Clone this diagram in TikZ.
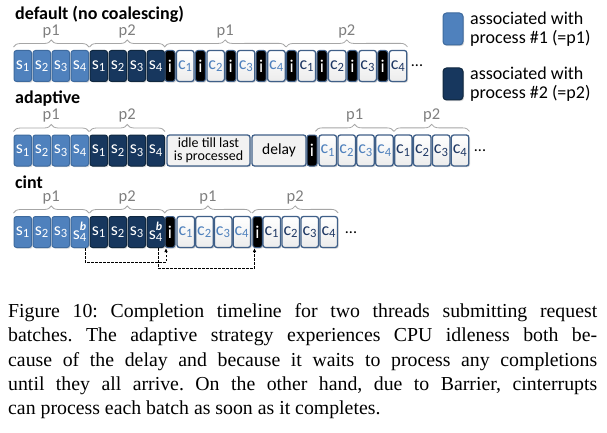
\documentclass[tikz,border=0pt]{standalone}
\usepackage{fontspec}
\setmainfont{Liberation Serif}
\newfontfamily\calfont{Carlito}
\usetikzlibrary{shadows,decorations.pathreplacing,arrows.meta}
\definecolor{p1fill}{HTML}{4F81BD}
\definecolor{p1edge}{HTML}{3E6A9E}
\definecolor{p2fill}{HTML}{17375E}
\definecolor{p2edge}{HTML}{102840}
\definecolor{cedge}{HTML}{3F5F88}
\definecolor{p2text}{HTML}{1F3864}
\definecolor{bracegray}{HTML}{A6A6A6}
\definecolor{labgray}{HTML}{7F7F7F}
\definecolor{idlefill}{HTML}{F2F2F2}
\newcommand\ssub[1]{s\textsubscript{#1}}
\newcommand\csub[1]{c\textsubscript{#1}}
\newcommand\sbsub{s\makebox[0pt][l]{\raisebox{8.5pt}{\fontsize{12}{12}\selectfont\bfseries\itshape b}}\textsubscript{4}}
\tikzset{
  cell/.style={rounded corners=2.5pt, line width=1pt, minimum height=31pt, inner sep=0pt,
    drop shadow={shadow xshift=1.2pt, shadow yshift=-1.2pt, opacity=0.3},
    font=\calfont\fontsize{18}{20}\selectfont},
  sa/.style={cell, fill=p1fill, draw=p1edge, text=white, minimum width=17.5pt},
  sb/.style={cell, fill=p2fill, draw=p2edge, text=white, minimum width=17.5pt},
  cc/.style={cell, top color=white, bottom color=gray!15, draw=cedge, line width=1.3pt, minimum width=17.5pt},
  ib/.style={cell, fill=black, draw=cedge, text=white, minimum width=10pt},
  wide/.style={cell, fill=idlefill, draw=cedge, line width=1.3pt, text=black},
  brc/.style={draw=bracegray, line width=0.8pt, decorate, decoration={brace, amplitude=7pt}},
  plab/.style={font=\calfont\fontsize{16.5}{16.5}\selectfont, text=labgray, inner sep=0pt},
  ttl/.style={anchor=base west, inner sep=0pt, font=\calfont\bfseries\fontsize{18}{20}\selectfont},
  dots/.style={anchor=base, inner sep=0pt, font=\calfont\fontsize{16}{16}\selectfont},
  legbox/.style={rounded corners=3.5pt, line width=1pt, minimum width=20pt, minimum height=32pt, inner sep=0pt,
    drop shadow={shadow xshift=1.2pt, shadow yshift=-1.2pt, opacity=0.3}},
  legtxt/.style={anchor=west, align=left, inner sep=0pt, font=\calfont\fontsize{18}{19}\selectfont},
  dsh/.style={dash pattern=on 2.5pt off 1.5pt, line width=0.8pt, -{Latex[length=4pt,width=3.5pt]}}
}
\begin{document}
\begin{tikzpicture}[x=1pt,y=-1pt]
\fill[white] (0,0) rectangle (607,433);
\useasboundingbox (0,0) rectangle (607,433);

% titles
\node[ttl] (t1) at (15,20) {default (no coalescing)};
\node[ttl] (t2) at (15,104) {adaptive};
\node[ttl] (t3) at (15,188) {cint};

% ---------- row 1 ----------
\foreach \k in {0,...,3} {
  \pgfmathtruncatemacro\n{\k+1}
  \node[sa] (da\n) at ({14+\k*19+8.75},66) {\ssub{\n}};
  \node[sb] (db\n) at ({90+\k*19+8.75},66) {\ssub{\n}};
}
\foreach \k in {0,...,7} {
  \pgfmathtruncatemacro\n{mod(\k,4)+1}
  \ifnum\k<4 \def\tc{p1fill}\else\def\tc{p2text}\fi
  \node[ib] (di\k) at ({165+\k*30.4+5},66) {i};
  \node[cc, text=\tc] (dc\k) at ({165+\k*30.4+11.5+8.75},66) {\csub{\n}};
}
\node[dots] (d1) at (417,67) {...};
\draw[brc] ([yshift=3pt]da1.north west) -- ([yshift=3pt]da4.north east) node[plab, midway, above=8.5pt] {p1};
\draw[brc] ([yshift=3pt]db1.north west) -- ([yshift=3pt]db4.north east) node[plab, midway, above=8.5pt] {p2};
\draw[brc] ([yshift=3pt]di0.north west) -- ([yshift=3pt]dc3.north east) node[plab, midway, above=8.5pt] {p1};
\draw[brc] ([yshift=3pt]di4.north west) -- ([yshift=3pt]dc7.north east) node[plab, midway, above=8.5pt] {p2};

% ---------- row 2 ----------
\foreach \k in {0,...,3} {
  \pgfmathtruncatemacro\n{\k+1}
  \node[sa] (aa\n) at ({14+\k*19+8.75},150.5) {\ssub{\n}};
  \node[sb] (ab\n) at ({90+\k*19+8.75},150.5) {\ssub{\n}};
}
\node[wide, minimum width=83pt, align=center, font=\calfont\fontsize{14}{12.8}\selectfont] (idle) at (208.5,150.5) {idle till last\\is processed};
\node[wide, minimum width=54pt, font=\calfont\fontsize{15.5}{16}\selectfont] (delay) at (279,150.5) {delay};
\node[ib] (ai0) at (312,150.5) {i};
\foreach \k in {0,...,7} {
  \pgfmathtruncatemacro\n{mod(\k,4)+1}
  \ifnum\k<4 \def\tc{p1fill}\else\def\tc{p2text}\fi
  \node[cc, text=\tc] (ac\k) at ({319+\k*18.9+8.75},150.5) {\csub{\n}};
}
\node[dots] (d2) at (480,151.5) {...};
\draw[brc] ([yshift=3pt]aa1.north west) -- ([yshift=3pt]aa4.north east) node[plab, midway, above=8.5pt] {p1};
\draw[brc] ([yshift=3pt]ab1.north west) -- ([yshift=3pt]ab4.north east) node[plab, midway, above=8.5pt] {p2};
\draw[brc] ([yshift=3pt,xshift=-3pt]ac0.north west) -- ([yshift=3pt]ac3.north east) node[plab, midway, above=8.5pt] {p1};
\draw[brc] ([yshift=3pt]ac4.north west) -- ([yshift=3pt]ac7.north east) node[plab, midway, above=8.5pt] {p2};

% ---------- row 3 ----------
\foreach \k in {0,...,2} {
  \pgfmathtruncatemacro\n{\k+1}
  \node[sa] (ca\n) at ({14+\k*19+8.75},232) {\ssub{\n}};
  \node[sb] (cb\n) at ({90+\k*19+8.75},232) {\ssub{\n}};
}
\node[sa] (ca4) at ({14+3*19+8.75},232) {\sbsub};
\node[sb] (cb4) at ({90+3*19+8.75},232) {\sbsub};
\node[ib] (ci1) at (170,232) {i};
\foreach \k in {0,...,3} {
  \pgfmathtruncatemacro\n{\k+1}
  \node[cc, text=p1fill] (cc\k) at ({177+\k*18.7+8.75},232) {\csub{\n}};
}
\node[ib, minimum width=9.5pt] (ci2) at (257.5,232) {i};
\foreach \k in {0,...,3} {
  \pgfmathtruncatemacro\n{\k+1}
  \pgfmathtruncatemacro\m{\k+4}
  \node[cc, text=p2text] (cc\m) at ({263+\k*19+8.75},232) {\csub{\n}};
}
\node[dots] (d3) at (351,233) {...};
\draw[brc] ([yshift=3pt]ca1.north west) -- ([yshift=3pt]ca4.north east) node[plab, midway, above=8.5pt] {p1};
\draw[brc] ([yshift=3pt]cb1.north west) -- ([yshift=3pt]cb4.north east) node[plab, midway, above=8.5pt] {p2};
\draw[brc] ([yshift=3pt]ci1.north west) -- ([yshift=3pt]cc3.north east) node[plab, midway, above=8.5pt] {p1};
\draw[brc] ([yshift=3pt]ci2.north west) -- ([yshift=3pt]cc7.north east) node[plab, midway, above=8.5pt] {p2};

\draw[dsh] ([xshift=5.25pt]ca4.south) -- ++(0,14) -| ([xshift=-4pt]ci1.south);
\draw[dsh] ([xshift=2.25pt]cb4.south) -- ++(0,20) -| ([xshift=-3pt]ci2.south);

% ---------- legend ----------
\node[legbox, fill=p1fill, draw=p1edge] (lg1) at (453,29) {};
\node[legtxt] (lt1) at (470,29) {associated with\\process \#1 (=p1)};
\node[legbox, fill=p2fill, draw=p2edge] (lg2) at (453,84) {};
\node[legtxt] (lt2) at (470,84) {associated with\\process \#2 (=p2)};

% ---------- caption ----------
\node[anchor=north west, inner sep=0pt, font=\fontsize{19.8}{24.2}\selectfont] (cap) at (8,303.5) {%
\begin{minipage}[t]{589pt}\frenchspacing
\hbox to\linewidth{Figure 10: Completion timeline for two threads submitting request}
\hbox to\linewidth{batches. The adaptive strategy experiences CPU idleness both be-}
\hbox to\linewidth{cause of the delay and because it waits to process any completions}
\hbox to\linewidth{until they all arrive. On the other hand, due to Barrier, cinterrupts}
\hbox{can process each batch as soon as it completes.}
\end{minipage}};
\end{tikzpicture}
\end{document}
